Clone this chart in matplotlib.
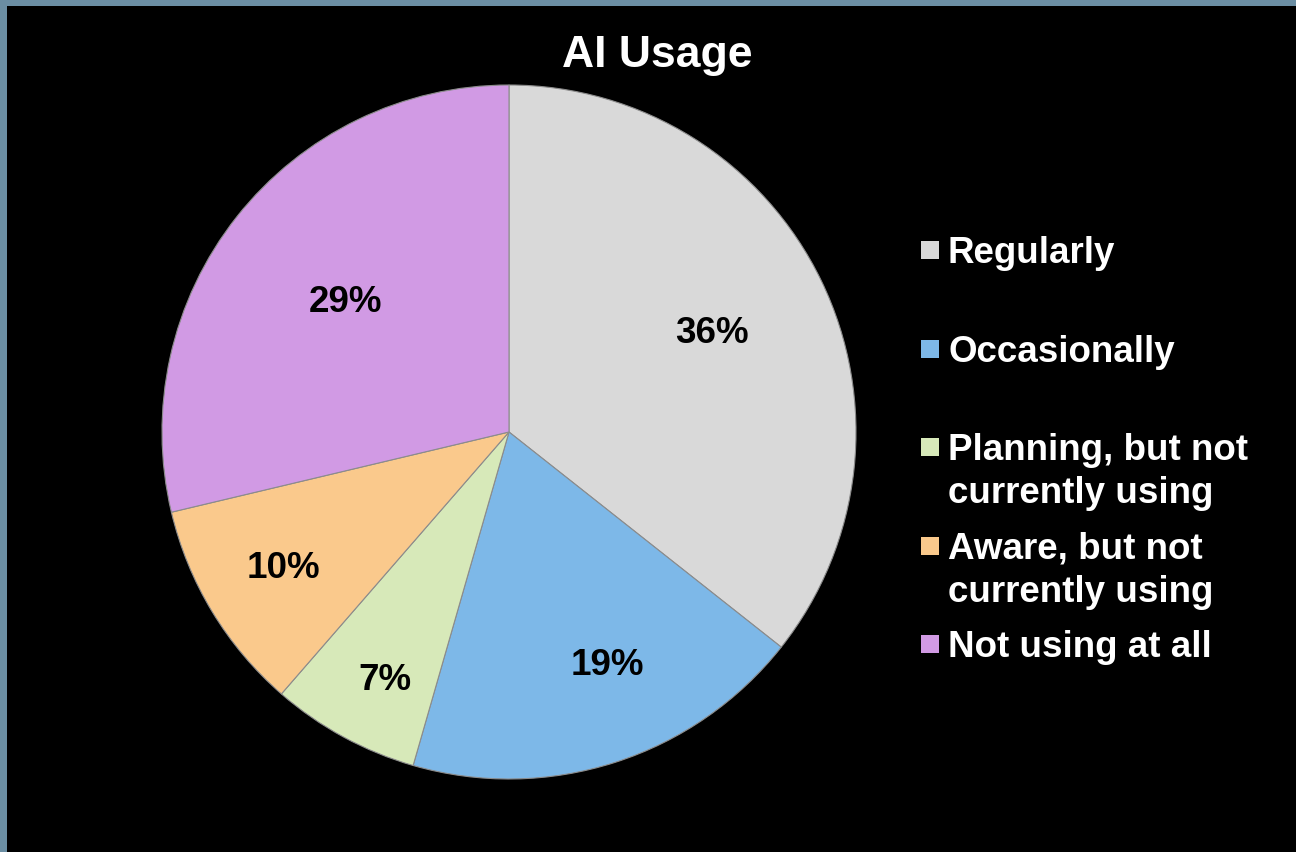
import matplotlib.pyplot as plt
from matplotlib.patches import Rectangle
import numpy as np

plt.rcParams['font.family'] = ['Liberation Sans', 'DejaVu Sans']

categories = ["Regularly", "Occasionally", "Planning, but not\ncurrently using",
              "Aware, but not\ncurrently using", "Not using at all"]
shares = [36, 19, 7, 10, 29]
colors = ["#d9d9d9", "#7db8e8", "#d7e9b9", "#fac98c", "#d19ae4"]
# how far out from the centre each percentage sits (fraction of radius)
label_radius = [0.65, 0.73, 0.80, 0.76, 0.60]
# small angular nudges (degrees) for the percentage labels
label_shift = [0, 5, 2, 0, 0]

W, H = 1296, 852
fig = plt.figure(figsize=(W / 100, H / 100), dpi=100)
fig.patch.set_facecolor("#6b8ea3")

# black slide area behind everything
bg = fig.add_axes([7 / W, 0, 1 - 7 / W, 1 - 6 / H], zorder=-1)
bg.set_facecolor("black")
bg.set_xticks([])
bg.set_yticks([])
for s in bg.spines.values():
    s.set_visible(False)

cx, cy, r = 509, 432, 347
ax = fig.add_axes([(cx - r) / W, (H - cy - r) / H, 2 * r / W, 2 * r / H])
wedges, _ = ax.pie(shares, colors=colors, startangle=90, counterclock=False,
                   wedgeprops=dict(edgecolor="#8c8c8c", linewidth=0.8))
ax.set_xlim(-1, 1)
ax.set_ylim(-1, 1)
ax.set_aspect("equal")
ax.axis("off")

for w, v, d, sh in zip(wedges, shares, label_radius, label_shift):
    ang = np.deg2rad((w.theta1 + w.theta2) / 2 + sh)
    ax.text(d * np.cos(ang), d * np.sin(ang), f"{v}%", ha="center", va="center",
            fontsize=26.5, fontweight="bold", color="black")

fig.text(657 / W, 1 - 55 / H, "AI Usage", ha="center", va="center",
         fontsize=32, fontweight="bold", color="white")

# legend drawn by hand so entries keep an even pitch
y0, step = 250, 98.5
for i, (lab, c) in enumerate(zip(categories, colors)):
    y = y0 + i * step
    fig.patches.append(Rectangle((921 / W, 1 - (y + 9) / H), 18 / W, 18 / H,
                                 transform=fig.transFigure, facecolor=c, edgecolor="none"))
    fig.text(948 / W, 1 - (y - 14) / H, lab, ha="left", va="top", fontsize=26.5,
             fontweight="bold", color="white", linespacing=1.3)

fig.savefig("out.png", dpi=100, facecolor=fig.get_facecolor())
